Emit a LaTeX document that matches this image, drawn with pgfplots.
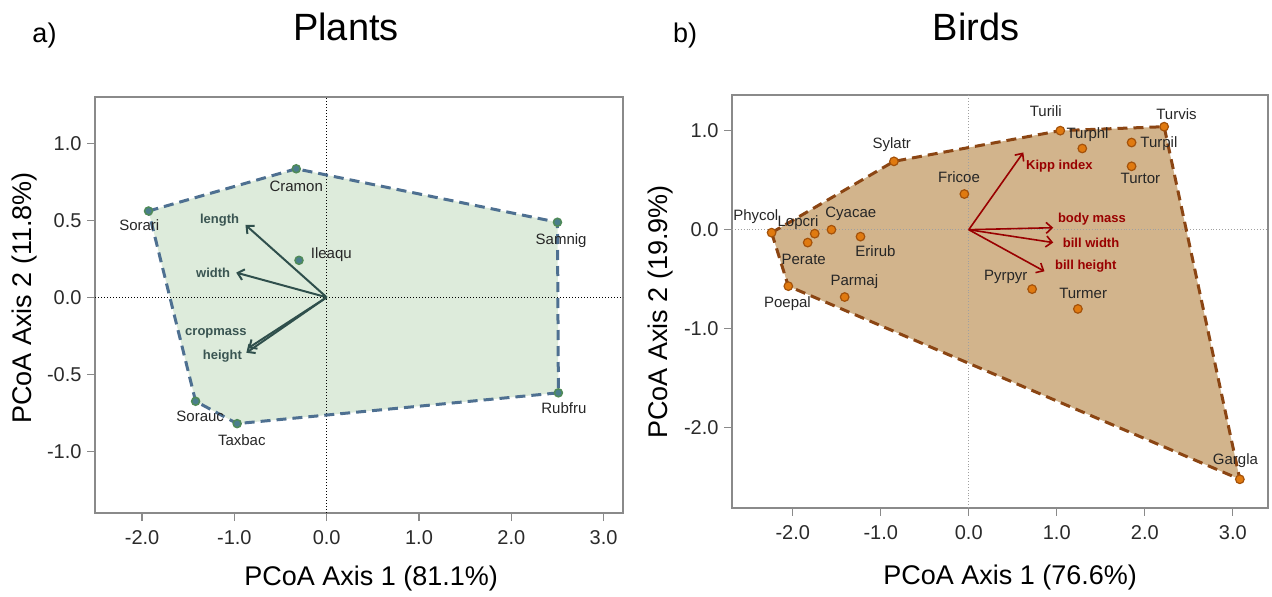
\documentclass[border=0pt]{standalone}
\usepackage{fontspec}
\setmainfont{Liberation Sans}
\usepackage{pgfplots}
\pgfplotsset{compat=1.18}
\usetikzlibrary{arrows.meta}

\definecolor{axgray}{HTML}{8A8A8A}
\definecolor{tickcol}{HTML}{2A2A2A}
\definecolor{lfill}{HTML}{DDEBDB}
\definecolor{lhull}{HTML}{4E7091}
\definecolor{lpt}{HTML}{4A7E8C}
\definecolor{lptdraw}{HTML}{4F8A58}
\definecolor{larrow}{HTML}{2F4F4C}
\definecolor{llab}{HTML}{3A5552}
\definecolor{rfill}{HTML}{D2B48C}
\definecolor{rhull}{HTML}{8B4513}
\definecolor{rpt}{HTML}{E07A10}
\definecolor{rptdraw}{HTML}{A4520A}
\definecolor{rarrow}{HTML}{990000}
\definecolor{rdot}{HTML}{A0A0A0}

\tikzset{
  plab/.style={font=\fontsize{15}{17}\selectfont, text=black!85, inner sep=0pt},
  alab/.style={font=\fontsize{13}{15}\selectfont\bfseries, inner sep=0pt},
}
\pgfplotsset{
  rstyle/.style={
    scale only axis, clip=false,
    axis line style={draw=axgray, line width=1.2pt},
    tick align=outside, tick pos=left, major tick length=8pt,
    tick style={draw=axgray, line width=1.2pt},
    ticklabel style={font=\fontsize{20}{24}\selectfont, text=tickcol},
    xticklabel style={yshift=-6pt},
    yticklabel style={xshift=-2pt},
    label style={font=\fontsize{27}{32}\selectfont, anchor=center},
  },
}

\begin{document}
\begin{tikzpicture}[x=1pt,y=1pt]
\useasboundingbox (0pt,0pt) rectangle (1272pt,597pt);

% ---------------- Plants ----------------
\begin{axis}[rstyle, at={(95pt,84pt)}, anchor=south west, width=528pt, height=416pt,
  xmin=-2.51, xmax=3.21, ymin=-1.40, ymax=1.30,
  xtick={-2,-1,0,1,2,3}, xticklabels={-2.0,-1.0,0.0,1.0,2.0,3.0},
  ytick={-1,-0.5,0,0.5,1}, yticklabels={-1.0,-0.5,0.0,0.5,1.0},
  xlabel={PCoA Axis 1 (81.1\%)}, ylabel={PCoA Axis 2 (11.8\%)},
  xlabel style={at={(axis description cs:0.523,-0.158)}},
  ylabel style={at={(axis description cs:-0.1326,0.517)}},
]
\addplot[draw=none, fill=lfill] coordinates {(-1.93,0.56) (-0.33,0.834) (2.50,0.487) (2.51,-0.62) (-0.97,-0.82) (-1.42,-0.675)} -- cycle;
\draw[black, dotted, line width=1pt] (axis cs:0,-1.40) -- (axis cs:0,1.30);
\draw[black, dotted, line width=1pt] (axis cs:-2.51,0) -- (axis cs:3.21,0);
\addplot[draw=lhull, line width=3pt, dash pattern=on 10pt off 6pt] coordinates {(-1.93,0.56) (-0.33,0.834) (2.50,0.487) (2.51,-0.62) (-0.97,-0.82) (-1.42,-0.675)} -- cycle;
\addplot[larrow, line width=2pt, -{Straight Barb[length=6pt,width=11pt,line width=2pt]}] coordinates {(0,0) (-0.88,0.47)};
\addplot[larrow, line width=2pt, -{Straight Barb[length=6pt,width=11pt,line width=2pt]}] coordinates {(0,0) (-0.98,0.16)};
\addplot[larrow, line width=2pt, -{Straight Barb[length=6pt,width=11pt,line width=2pt]}] coordinates {(0,0) (-0.85,-0.33)};
\addplot[larrow, line width=2pt, -{Straight Barb[length=6pt,width=11pt,line width=2pt]}] coordinates {(0,0) (-0.87,-0.36)};
\addplot[only marks, mark=*, mark size=4pt, mark options={fill=lpt, draw=lptdraw, line width=1.5pt}] coordinates {
(-1.93,0.56) (-0.33,0.834) (2.50,0.487) (2.51,-0.62) (-0.97,-0.82) (-1.42,-0.675) (-0.30,0.24)};
\node[plab] at (axis cs:-0.33,0.72) {Cramon};
\node[plab] at (axis cs:-2.03,0.47) {Sorari};
\node[plab] at (axis cs:2.54,0.37) {Samnig};
\node[plab] at (axis cs:2.57,-0.72) {Rubfru};
\node[plab] at (axis cs:-1.37,-0.77) {Sorauc};
\node[plab] at (axis cs:-0.92,-0.93) {Taxbac};
\node[plab] at (axis cs:0.05,0.28) {Ileaqu};
\node[alab, text=llab] at (axis cs:-1.16,0.50) {length};
\node[alab, text=llab] at (axis cs:-1.23,0.16) {width};
\node[alab, text=llab] at (axis cs:-1.20,-0.235) {cropmass};
\node[alab, text=llab] at (axis cs:-1.13,-0.38) {height};
\end{axis}

% ---------------- Birds ----------------
\begin{axis}[rstyle, at={(732pt,89pt)}, anchor=south west, width=536pt, height=413pt,
  xmin=-2.69, xmax=3.40, ymin=-2.81, ymax=1.36,
  xtick={-2,-1,0,1,2,3}, xticklabels={-2.0,-1.0,0.0,1.0,2.0,3.0},
  ytick={-2,-1,0,1}, yticklabels={-2.0,-1.0,0.0,1.0},
  xlabel={PCoA Axis 1 (76.6\%)}, ylabel={PCoA Axis 2 (19.9\%)},
  xlabel style={at={(axis description cs:0.519,-0.169)}},
  ylabel style={at={(axis description cs:-0.134,0.475)}},
]
\addplot[draw=none, fill=rfill] coordinates {(-2.24,-0.03) (-0.85,0.69) (1.04,1.0) (2.22,1.04) (3.08,-2.52) (-2.05,-0.57)} -- cycle;
\draw[rdot, dotted, line width=0.9pt] (axis cs:0,-2.81) -- (axis cs:0,1.36);
\draw[rdot, dotted, line width=0.9pt] (axis cs:-2.69,0) -- (axis cs:3.40,0);
\addplot[draw=rhull, line width=3pt, dash pattern=on 10pt off 6pt] coordinates {(-2.24,-0.03) (-0.85,0.69) (1.04,1.0) (2.22,1.04) (3.08,-2.52) (-2.05,-0.57)} -- cycle;
\addplot[rarrow, line width=1.6pt, -{Straight Barb[length=6pt,width=11pt,line width=1.6pt]}] coordinates {(0,0) (0.62,0.78)};
\addplot[rarrow, line width=1.6pt, -{Straight Barb[length=6pt,width=11pt,line width=1.6pt]}] coordinates {(0,0) (0.96,0.02)};
\addplot[rarrow, line width=1.6pt, -{Straight Barb[length=6pt,width=11pt,line width=1.6pt]}] coordinates {(0,0) (0.96,-0.13)};
\addplot[rarrow, line width=1.6pt, -{Straight Barb[length=6pt,width=11pt,line width=1.6pt]}] coordinates {(0,0) (0.86,-0.42)};
\addplot[only marks, mark=*, mark size=4.3pt, mark options={fill=rpt, draw=rptdraw, line width=1.2pt}] coordinates {
(-2.24,-0.03) (-1.75,-0.04) (-1.83,-0.13) (-1.56,0.0) (-1.23,-0.07) (-2.05,-0.57) (-1.41,-0.68)
(-0.05,0.36) (-0.85,0.69) (1.04,1.0) (1.29,0.82) (2.22,1.04) (1.85,0.88) (1.85,0.64)
(0.72,-0.60) (1.24,-0.80) (3.08,-2.52)};
\node[plab] at (axis cs:-2.42,0.13) {Phycol};
\node[plab] at (axis cs:-1.94,0.07) {Lopcri};
\node[plab] at (axis cs:-1.34,0.16) {Cyacae};
\node[plab] at (axis cs:-1.06,-0.22) {Erirub};
\node[plab] at (axis cs:-1.875,-0.30) {Perate};
\node[plab] at (axis cs:-2.06,-0.75) {Poepal};
\node[plab] at (axis cs:-1.30,-0.52) {Parmaj};
\node[plab] at (axis cs:0.42,-0.48) {Pyrpyr};
\node[plab] at (axis cs:1.30,-0.64) {Turmer};
\node[plab] at (axis cs:-0.11,0.53) {Fricoe};
\node[plab] at (axis cs:-0.875,0.86) {Sylatr};
\node[plab] at (axis cs:0.875,1.20) {Turili};
\node[plab] at (axis cs:1.35,0.96) {Turphl};
\node[plab] at (axis cs:2.36,1.17) {Turvis};
\node[plab] at (axis cs:2.16,0.87) {Turpil};
\node[plab] at (axis cs:1.95,0.52) {Turtor};
\node[plab] at (axis cs:3.03,-2.33) {Gargla};
\node[alab, text=rarrow] at (axis cs:1.03,0.64) {Kipp index};
\node[alab, text=rarrow] at (axis cs:1.40,0.106) {body mass};
\node[alab, text=rarrow] at (axis cs:1.39,-0.136) {bill width};
\node[alab, text=rarrow] at (axis cs:1.33,-0.37) {bill height};
\end{axis}

\node[anchor=base, font=\fontsize{38}{44}\selectfont] at (346pt,556pt) {Plants};
\node[anchor=base, font=\fontsize{38}{44}\selectfont] at (976pt,556pt) {Birds};
\node[anchor=base, font=\fontsize{27}{32}\selectfont] at (44.5pt,554pt) {a)};
\node[anchor=base, font=\fontsize{27}{32}\selectfont] at (685pt,554pt) {b)};
\end{tikzpicture}
\end{document}
